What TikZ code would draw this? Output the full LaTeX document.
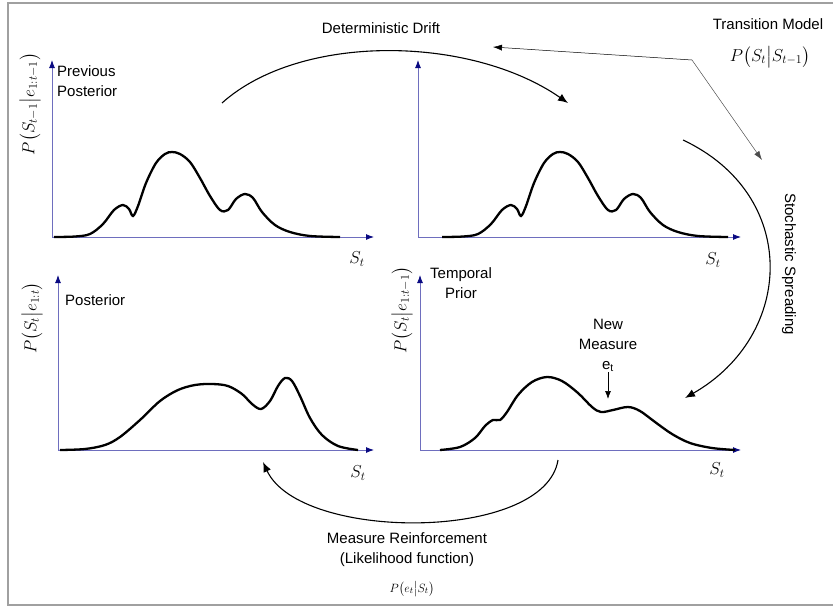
\documentclass[tikz,border=0pt]{standalone}
\usepackage{amsmath}
\usepackage{fontspec}
\setmainfont{Liberation Sans}
\usepackage{tikz}
\usetikzlibrary{arrows.meta,positioning}
\definecolor{axisline}{RGB}{110,110,190}
\definecolor{axishead}{RGB}{10,10,130}
\definecolor{framegray}{RGB}{160,160,160}

\begin{document}
\begin{tikzpicture}[x=1pt,y=-1pt,
  axis/.style={axisline, line width=0.9pt, {Latex[length=8pt,width=6pt,color=axishead]}-{Latex[length=8pt,width=6pt,color=axishead]}},
  curve/.style={line width=2.3pt, smooth, tension=0.55},
  arr/.style={-{Latex[length=10pt,width=8pt]}, line width=1.1pt},
  fine/.style={-{Latex[length=9pt,width=6pt]}, line width=0.5pt},
  lbl/.style={font=\fontsize{15}{20}\selectfont, align=center, inner sep=1pt},
  ylbl/.style={font=\fontsize{18}{20}\selectfont, rotate=90, inner sep=1pt},
  slbl/.style={font=\fontsize{18}{20}\selectfont, inner sep=1pt}
]
\useasboundingbox (0,0) rectangle (833,608);
\draw[framegray, line width=1.6pt] (840,3) -- (8,3) -- (8,605) -- (840,605);

% axes of the four plots
\coordinate (o1) at (52,237);  \coordinate (y1) at (52,60);  \coordinate (x1) at (374,237);
\coordinate (o2) at (418,237); \coordinate (y2) at (418,60); \coordinate (x2) at (741,237);
\coordinate (o3) at (58,450);  \coordinate (y3) at (58,275); \coordinate (x3) at (374,450);
\coordinate (o4) at (420,450); \coordinate (y4) at (420,275); \coordinate (x4) at (741,450);
\draw[axis] (y1) -- (o1) -- (x1);
\draw[axis] (y2) -- (o2) -- (x2);
\draw[axis] (y3) -- (o3) -- (x3);
\draw[axis] (y4) -- (o4) -- (x4);

% densities
\draw[curve] plot coordinates {(54,237) (75,236.5) (90,234) (103,224) (114,210) (123,205) (129,209) (133,216) (138,206) (146,183) (156,163) (165,154) (172,152) (180,154) (190,162) (200,178) (210,196) (220,210) (228,210) (236,199) (245,194) (253,198) (262,212) (275,225) (290,232) (310,236) (340,237)};
\draw[curve, xshift=388pt] plot coordinates {(54,237) (75,236.5) (90,234) (103,224) (114,210) (123,205) (129,209) (133,216) (138,206) (146,183) (156,163) (165,154) (172,152) (180,154) (190,162) (200,178) (210,196) (220,210) (228,210) (236,199) (245,194) (253,198) (262,212) (275,225) (290,232) (310,236) (340,237)};
\draw[curve] plot coordinates {(60,450) (85,449) (105,445) (120,437) (140,420) (160,401) (178,390) (195,385) (212,384) (228,386) (242,394) (252,404) (261,409) (270,401) (278,386) (285,378) (292,381) (300,396) (310,418) (322,435) (338,446) (358,450)};
\draw[curve] plot coordinates {(440,450) (460,447) (475,438) (485,426) (493,420) (500,420) (507,412) (518,395) (532,382) (547,377) (562,381) (578,393) (592,407) (601,412) (613,410) (628,407) (640,411) (655,422) (672,434) (690,443) (712,448) (735,450)};

% axis labels
\node[ylbl] (p1) at (30,104) {$P\bigl(S_{t-1}\big|e_{1:t-1}\bigr)$};
\node[ylbl] (p3) at (32,318) {$P\bigl(S_{t}\big|e_{1:t}\bigr)$};
\node[ylbl] (p4) at (402,310) {$P\bigl(S_{t}\big|e_{1:t-1}\bigr)$};
\node[slbl] (st1) at (357,259) {$S_t$};
\node[slbl] (st2) at (713,260) {$S_t$};
\node[slbl] (st3) at (358,473) {$S_t$};
\node[slbl] (st4) at (717,470) {$S_t$};

% plot titles
\node[lbl, align=left, anchor=west] (prevpost) at (56,81) {Previous\\Posterior};
\node[lbl, anchor=west] (post) at (64,300) {Posterior};
\node[lbl] (tprior) at (461,283) {Temporal\\Prior};
\node[lbl] (newmeas) at (608,345) {New\\Measure\\e\textsubscript{t}};
\coordinate (meastip) at (608,399);
\draw[-{Latex[length=8pt,width=6pt]}, line width=0.7pt] (newmeas) -- (meastip);

% steps of the filter
\node[lbl] (drift) at (381,28) {Deterministic Drift};
\coordinate (drift-a) at (222,103);
\coordinate (drift-b) at (568,103);
\draw[arr] (drift-a) .. controls (300,33) and (470,35) .. (drift-b);

\node[lbl] (tmodel) at (768,24) {Transition Model};
\node[slbl] (tmform) at (770,57) {$P\bigl(S_t\big|S_{t-1}\bigr)$};
\coordinate (tmfoot) at (692,60);
\coordinate (drifttip) at (493,47);
\coordinate (spreadtip) at (762,160);
\draw[fine] (tmfoot) -- (drifttip);
\draw[fine, black!70] (tmfoot) -- (spreadtip);

\node[lbl, rotate=-90] (spread) at (789,264) {Stochastic Spreading};
\coordinate (spread-a) at (683,140);
\coordinate (spread-b) at (685,398);
\draw[arr] (spread-a) .. controls (800,195) and (795,335) .. (spread-b);

\node[lbl] (reinf) at (407,550) {Measure Reinforcement\\(Likelihood function)};
\node[font=\fontsize{13}{15}\selectfont, inner sep=1pt] (lik) at (412,589) {$P\bigl(e_t\big|S_t\bigr)$};
\coordinate (reinf-a) at (558,460);
\coordinate (reinf-b) at (263,462);
\draw[arr] (reinf-a) .. controls (545,542) and (300,542) .. (reinf-b);
\end{tikzpicture}
\end{document}
